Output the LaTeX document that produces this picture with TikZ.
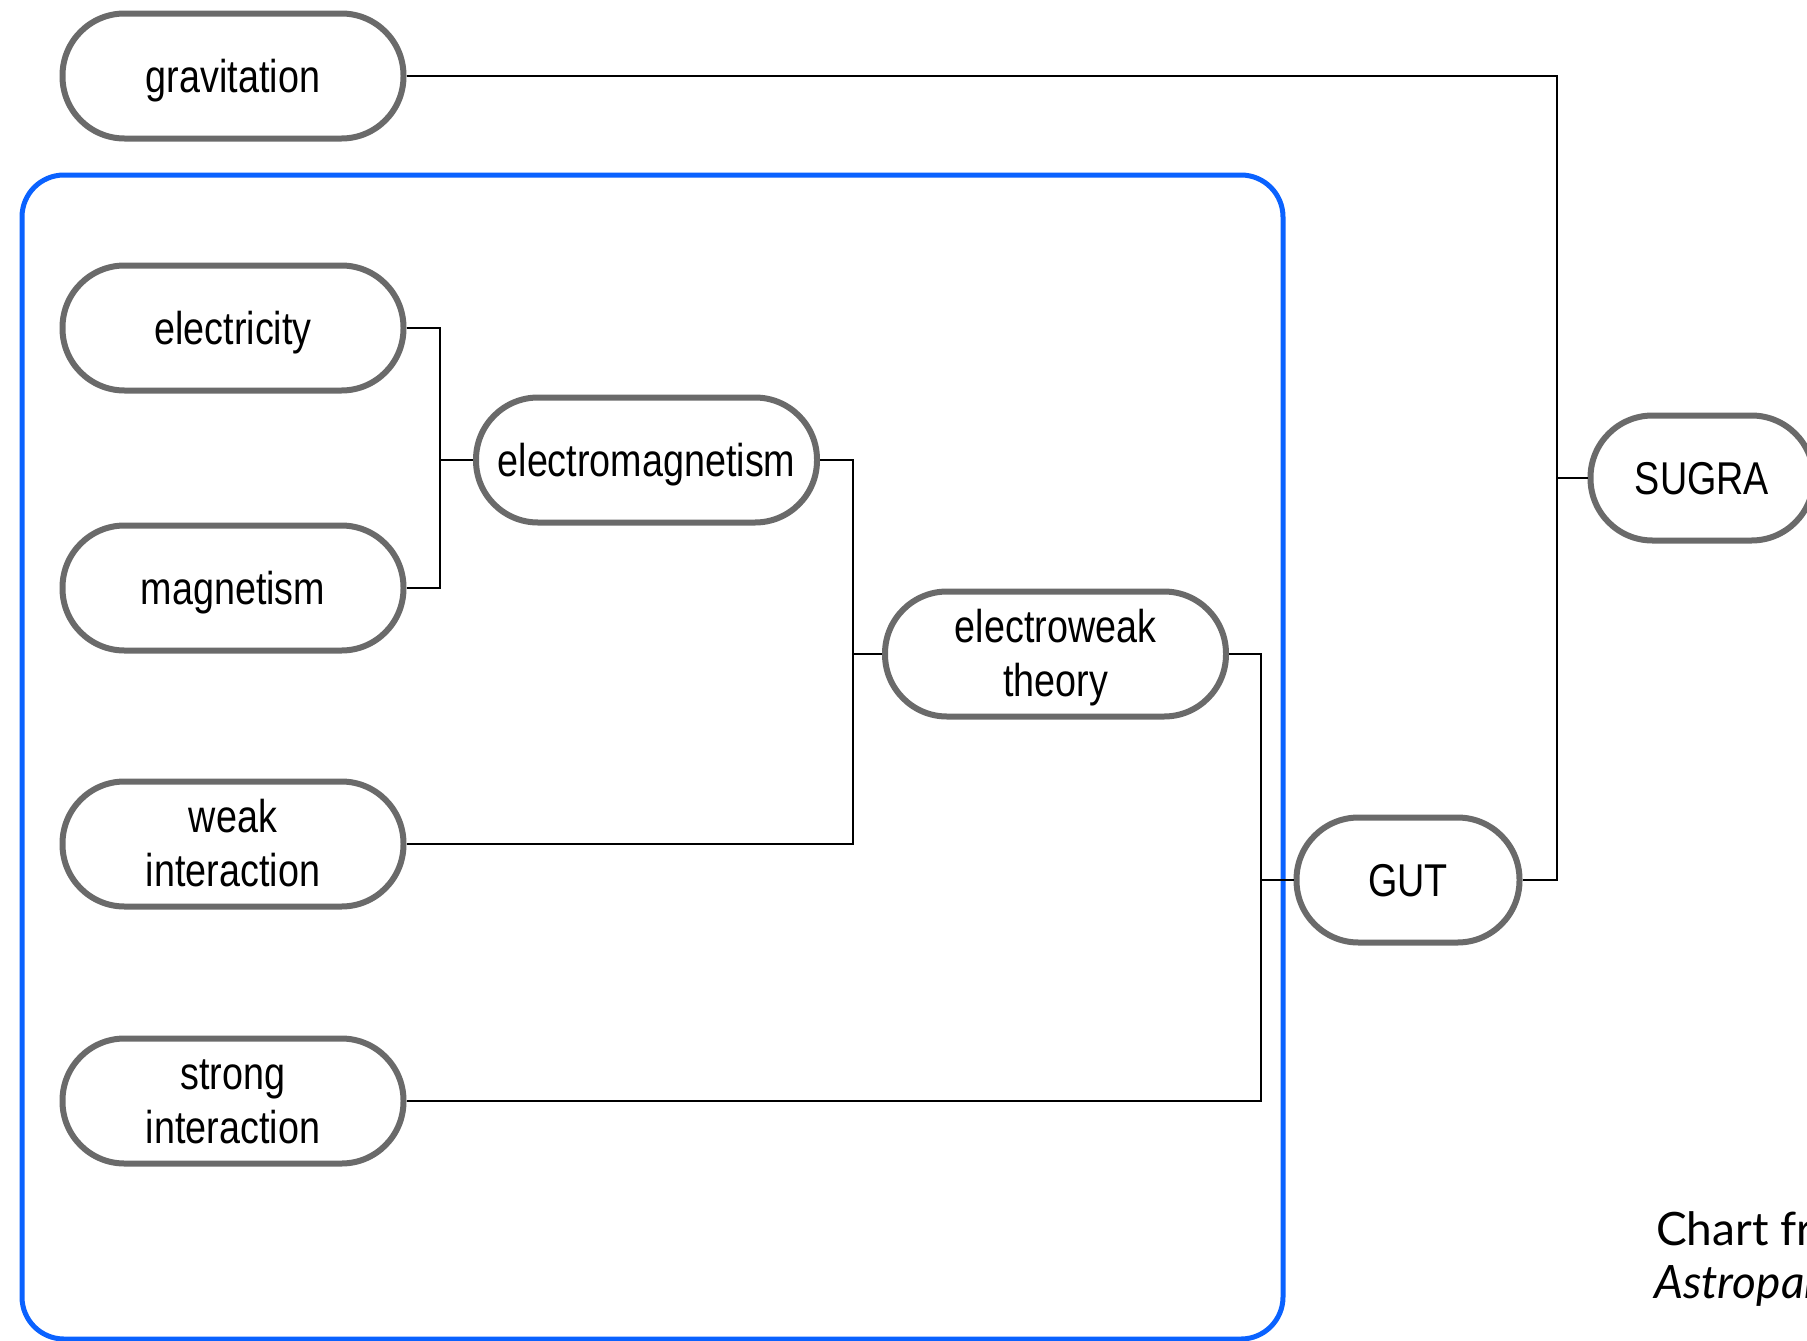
\documentclass[tikz,border=0pt]{standalone}
\usepackage{fontspec}
\setmainfont{Liberation Sans}[FakeStretch=0.82]
\newfontfamily\notefont{Lato}
\definecolor{nodegray}{HTML}{6A6A6A}
\definecolor{frameblue}{HTML}{0A62FF}
\begin{document}
\begin{tikzpicture}[x=1pt,y=-1pt,
  pill/.style={draw=nodegray, line width=6pt, fill=white, rounded corners=62pt,
    minimum width=341pt, minimum height=125pt, align=center, inner sep=0pt,
    text height=33pt, text depth=0pt,
    font=\fontsize{46}{54}\selectfont},
  twoline/.style={text height=85pt},
  smallpill/.style={pill, minimum width=223pt},
  link/.style={draw=black, line width=2.5pt},
  frame/.style={draw=frameblue, line width=5pt, rounded corners=42pt}]
\clip (0,0) rectangle (1807,1341);
\fill[white] (0,0) rectangle (1807,1341);

\draw[frame] (22,175) rectangle (1283,1339);

\node[pill] (grav) at (233,76) {gravitation};
\node[pill] (elec) at (233,328) {electricity};
\node[pill] (mag) at (233,588) {magnetism};
\node[pill] (em) at (646.5,460) {electromagnetism};
\node[pill, twoline] (ew) at (1055.5,654) {electroweak\\theory};
\node[pill, twoline] (weak) at (233,844) {weak\\interaction};
\node[pill, twoline] (strong) at (233,1101) {strong\\interaction};
\node[smallpill] (gut) at (1408,880) {GUT};
\node[smallpill] (sugra) at (1702,478) {SUGRA};

\coordinate (ex) at (440,0);
\coordinate (wx) at (853,0);
\coordinate (sx) at (1261,0);
\coordinate (gx) at (1557,0);

\draw[link] (elec.east) -- (elec.east -| ex) |- (mag.east);
\draw[link] (em.west) -- (em.west -| ex);
\draw[link] (em.east) -- (em.east -| wx) |- (weak.east);
\draw[link] (ew.west) -- (ew.west -| wx);
\draw[link] (ew.east) -- (ew.east -| sx) |- (strong.east);
\draw[link] (gut.west) -- (gut.west -| sx);
\draw[link] (grav.east) -- (grav.east -| gx) |- (gut.east);
\draw[link] (sugra.west) -- (sugra.west -| gx);

\node[anchor=base west, inner sep=0pt, font=\notefont\fontsize{46}{54}\selectfont] (note1) at (1656,1245) {Chart from};
\node[anchor=base west, inner sep=0pt, font=\notefont\itshape\fontsize{46}{54}\selectfont] (note2) at (1654,1298) {Astroparticle Physics};
\end{tikzpicture}
\end{document}
